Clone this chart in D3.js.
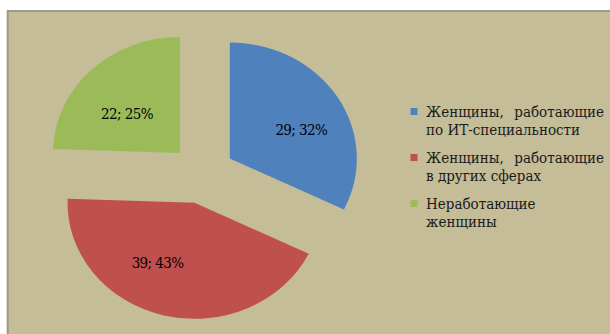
<!DOCTYPE html>
<html>
<head>
<meta charset="utf-8">
<script src="https://cdn.jsdelivr.net/npm/d3@7"></script>
<style>
  html, body { margin: 0; padding: 0; background: #fff; }
  svg { display: block; }
  svg text { font-family: "DejaVu Serif Condensed", "DejaVu Serif", serif; font-stretch: condensed; }
</style>
</head>
<body>
<svg id="chart" width="610" height="334"></svg>
<script>
// Survey groups and counts
const categories = [
  ["Женщины,", "работающие", "по ИТ-специальности"],
  ["Женщины,", "работающие", "в других сферах"],
  ["Неработающие", "", "женщины"]
];
const values = [29, 39, 22];
const percents = [32, 43, 25];
const colors = ["#4F81BD", "#C0504D", "#9BBB59"];

// Layout
const W = 610, H = 334;
const cx = 202.4, cy = 174.2;   // pie centre
const R = 116;                  // radius
const stretchX = 1.095;         // horizontal stretch of the pie
const explode = 29.5;           // distance each slice is pulled out
const labelR = 70;
const labelNudge = [[6.5, 8.6], [-18.5, -7.9], [0.3, 11.3]];

const svg = d3.select("#chart");

// Plot area frame
svg.append("rect")
  .attr("x", 7.7).attr("y", 11)
  .attr("width", W).attr("height", H)
  .attr("fill", "#C4BD97")
  .attr("stroke", "#9D9A8B")
  .attr("stroke-width", 2);

const pie = d3.pie().sort(null).value(d => d)(values);
const arc = d3.arc().innerRadius(0).outerRadius(R);
const labelArc = d3.arc().innerRadius(labelR).outerRadius(labelR);

const pieG = svg.append("g")
  .attr("transform", `translate(${cx},${cy}) scale(${stretchX},1)`);

pieG.selectAll("path")
  .data(pie)
  .join("path")
  .attr("fill", (d, i) => colors[i])
  .attr("transform", d => {
    const m = (d.startAngle + d.endAngle) / 2;
    return `translate(${explode * Math.sin(m)},${-explode * Math.cos(m)})`;
  })
  .attr("d", arc);

// Data labels: "value; percent%"
svg.append("g").selectAll("text")
  .data(pie)
  .join("text")
  .attr("x", (d, i) => {
    const m = (d.startAngle + d.endAngle) / 2;
    const c = labelArc.centroid(d);
    return cx + stretchX * (explode * Math.sin(m) + c[0]) + labelNudge[i][0];
  })
  .attr("y", (d, i) => {
    const m = (d.startAngle + d.endAngle) / 2;
    const c = labelArc.centroid(d);
    return cy + (-explode * Math.cos(m) + c[1]) + labelNudge[i][1];
  })
  .attr("text-anchor", "middle")
  .attr("dy", "0.35em")
  .attr("font-size", 15)
  .attr("letter-spacing", -0.6)
  .attr("fill", "#000")
  .text((d, i) => `${values[i]}; ${percents[i]}%`);

// Legend
const legX = 410.5, legTextX = 426, legRight = 604;
const legTop = 117, entryGap = 46, lineGap = 17.5;
const legend = svg.append("g")
  .attr("font-size", 15)
  .attr("fill", "#1a1a1a");

categories.forEach((c, i) => {
  const y = legTop + i * entryGap;
  legend.append("rect")
    .attr("x", legX).attr("y", y - 9)
    .attr("width", 7).attr("height", 7)
    .attr("fill", colors[i]);
  legend.append("text")
    .attr("x", legTextX).attr("y", y)
    .text(c[0]);
  if (c[1]) {
    legend.append("text")
      .attr("x", legRight).attr("y", y)
      .attr("text-anchor", "end")
      .text(c[1]);
  }
  legend.append("text")
    .attr("x", legTextX).attr("y", y + lineGap)
    .text(c[2]);
});
</script>
</body>
</html>
